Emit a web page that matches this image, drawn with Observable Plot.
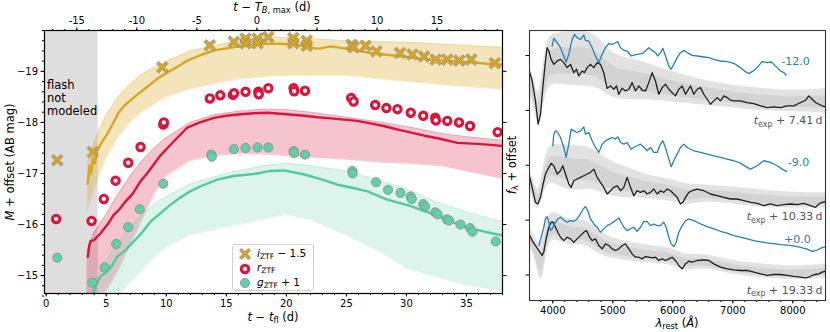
<!DOCTYPE html>
<html><head><meta charset="utf-8">
<script src="https://cdn.jsdelivr.net/npm/d3@7"></script>
<script src="https://cdn.jsdelivr.net/npm/@observablehq/plot@0.6"></script>
<style>
body{margin:0;background:#fff;font-family:"DejaVu Sans",sans-serif;}
#wrap{position:relative;width:830px;height:332px;overflow:hidden;background:#fff;}
#wrap svg{position:absolute;top:0;}
.lbl{position:absolute;font-size:11.5px;color:#000;white-space:nowrap;line-height:1;}
.lbl sub{font-size:0.72em;vertical-align:-0.3em;}
.lbl i{font-style:italic;}
#legend{position:absolute;left:232px;top:244px;width:80px;height:45px;border:1px solid #d0d0d0;border-radius:3px;background:rgba(255,255,255,0.85);font-size:10.5px;}
#legend .row{position:absolute;left:6px;height:14px;display:flex;align-items:center;}
#legend .row svg{position:static;margin-right:6px;}
#legend sub{font-size:0.72em;vertical-align:-0.3em;}
</style></head><body><div id="wrap"></div>
<script>
// ---------------- LEFT PANEL DATA ----------------
const flashEnd = 4.33;          // end of "flash not modeled" region (t - t_fl, d)
const tBmaxOffset = 17.55;      // t_fl + offset = T_B,max
const xTicksBottom = [0,5,10,15,20,25,30,35];
const xTicksTop = [-15,-10,-5,0,5,10,15];
const yTicksLeft = [-19,-18,-17,-16,-15];

// observed photometry (already offset as in legend)
const iObs = [[0.92,-17.26],[3.88,-17.42],[9.67,-19.08],[13.63,-19.51],[15.63,-19.58],[16.6,-19.64],[16.6,-19.55],[17.6,-19.64],[17.6,-19.55],[18.5,-19.67],[20.58,-19.65],[20.58,-19.55],[21.7,-19.6],[21.7,-19.5],[25.44,-19.52],[25.6,-19.47],[26.6,-19.5],[27.5,-19.39],[29.47,-19.36],[30.5,-19.33],[31.47,-19.29],[32.44,-19.23],[33.4,-19.23],[34.4,-19.21],[35.4,-19.23],[37.36,-19.16]];
const rObs = [[0.83,-16.11],[3.78,-16.07],[4.8,-16.5],[5.78,-16.86],[6.83,-17.21],[7.86,-17.52],[9.75,-17.96],[9.8,-18.0],[13.63,-18.47],[14.5,-18.53],[15.55,-18.54],[15.65,-18.57],[16.6,-18.6],[17.67,-18.6],[17.7,-18.55],[18.5,-18.67],[20.6,-18.67],[20.65,-18.61],[21.55,-18.62],[25.4,-18.48],[25.6,-18.41],[27.4,-18.34],[28.33,-18.28],[29.25,-18.26],[30.36,-18.19],[31.4,-18.13],[32.4,-18.09],[32.45,-18.04],[33.4,-18.03],[34.38,-18.0],[35.3,-17.93],[37.6,-17.81]];
const gObs = [[0.92,-15.35],[3.83,-14.86],[4.86,-15.16],[5.83,-15.62],[6.83,-15.95],[7.8,-16.3],[9.75,-16.8],[13.75,-17.37],[13.8,-17.33],[15.63,-17.48],[16.6,-17.5],[17.6,-17.51],[18.5,-17.51],[20.6,-17.44],[20.65,-17.4],[21.55,-17.37],[25.5,-17.05],[25.52,-17.0],[27.47,-16.83],[28.47,-16.68],[29.5,-16.62],[30.35,-16.55],[30.45,-16.5],[31.4,-16.4],[31.55,-16.35],[32.4,-16.24],[32.6,-16.2],[33.35,-16.1],[33.55,-16.08],[34.5,-16.0],[35.3,-15.93],[35.5,-15.86],[37.44,-15.67]];

// best model light curves
const iModel = [[3.45,-16.8],[3.6,-17.15],[3.75,-17.0],[3.9,-17.3],[4.05,-17.2],[4.25,-17.45],[4.6,-17.6],[5.08,-17.77],[5.5,-17.95],[6.05,-18.2],[6.6,-18.35],[7.3,-18.49],[8.0,-18.62],[8.7,-18.75],[9.4,-18.88],[10.1,-18.98],[11.0,-19.1],[11.75,-19.21],[13.0,-19.33],[14.0,-19.41],[15.0,-19.45],[16.2,-19.49],[17.3,-19.52],[18.4,-19.54],[19.5,-19.54],[20.5,-19.52],[21.5,-19.5],[22.6,-19.44],[23.7,-19.49],[25.1,-19.44],[26.0,-19.4],[27.0,-19.36],[28.5,-19.32],[29.8,-19.29],[31.2,-19.25],[32.6,-19.22],[34.0,-19.2],[35.4,-19.18],[36.7,-19.15],[38.0,-19.13]];
const rModel = [[3.47,-15.37],[3.6,-15.6],[3.68,-15.67],[4.0,-15.7],[4.53,-15.83],[5.1,-16.0],[5.63,-16.19],[6.1,-16.3],[6.6,-16.45],[7.2,-16.6],[7.86,-16.85],[8.4,-17.0],[8.97,-17.18],[9.5,-17.35],[10.1,-17.5],[11.0,-17.72],[11.75,-17.9],[12.8,-18.0],[13.97,-18.09],[15.0,-18.13],[16.2,-18.16],[17.3,-18.18],[18.4,-18.19],[19.5,-18.17],[20.5,-18.15],[21.5,-18.13],[22.6,-18.1],[23.7,-18.08],[25.9,-18.03],[27.0,-17.98],[28.1,-17.93],[29.3,-17.86],[30.4,-17.8],[31.5,-17.74],[32.6,-17.69],[34.25,-17.6],[35.9,-17.58],[37.0,-17.56],[38.0,-17.54]];
const gModel = [[3.83,-14.55],[4.1,-14.8],[4.5,-14.98],[5.08,-15.08],[5.5,-15.2],[5.92,-15.37],[6.6,-15.5],[7.3,-15.67],[8.0,-15.85],[8.7,-16.06],[9.5,-16.22],[10.36,-16.39],[11.0,-16.5],[11.75,-16.62],[12.86,-16.75],[14.25,-16.88],[15.6,-16.95],[17.3,-16.99],[18.7,-17.05],[19.8,-17.06],[21.5,-16.98],[23.0,-16.88],[24.25,-16.78],[25.5,-16.72],[26.75,-16.65],[28.4,-16.49],[30.36,-16.36],[32.6,-16.17],[34.8,-15.96],[36.5,-15.86],[38.0,-15.79]];

// ensemble envelopes [t, brightest, faintest]
const iBand = [[3.45,-17.2,-16.3],[4.0,-17.6,-16.7],[4.5,-17.9,-17.0],[5.0,-18.15,-17.3],[6.0,-18.5,-17.7],[7.0,-18.75,-18.0],[8.0,-18.95,-18.2],[10.0,-19.2,-18.5],[12.0,-19.4,-18.65],[14.0,-19.5,-18.75],[16.0,-19.6,-18.85],[18.5,-19.68,-18.9],[21.0,-19.65,-18.92],[25.0,-19.6,-18.92],[30.0,-19.57,-18.8],[34.0,-19.52,-18.72],[38.0,-19.47,-18.65]];
const rBand = [[3.4,-15.5,-14.5],[4.0,-15.85,-14.5],[5.0,-16.2,-14.7],[6.0,-16.6,-15.1],[7.0,-16.95,-15.6],[8.0,-17.25,-16.1],[9.0,-17.5,-16.6],[10.0,-17.7,-16.95],[12.0,-18.0,-17.25],[14.0,-18.15,-17.35],[16.0,-18.22,-17.38],[18.0,-18.26,-17.38],[20.0,-18.25,-17.35],[22.0,-18.2,-17.32],[25.0,-18.1,-17.28],[28.0,-18.0,-17.22],[30.0,-17.92,-17.2],[33.0,-17.78,-17.15],[35.0,-17.72,-17.05],[38.0,-17.65,-16.9]];
const gBand = [[3.8,-14.7,-14.5],[4.5,-15.1,-14.5],[5.0,-15.3,-14.5],[6.0,-15.65,-14.6],[7.0,-15.95,-14.85],[8.0,-16.2,-15.1],[9.0,-16.4,-15.35],[10.0,-16.55,-15.55],[12.0,-16.8,-15.8],[15.0,-17.0,-15.95],[18.0,-17.15,-16.1],[20.0,-17.2,-16.2],[22.0,-17.15,-16.1],[25.0,-17.05,-15.8],[28.0,-16.85,-15.45],[30.0,-16.7,-15.15],[33.0,-16.4,-14.95],[35.0,-16.25,-14.82],[38.0,-16.05,-14.7]];

// ---------------- RIGHT PANEL DATA ----------------
const lamTicks = [4000,5000,6000,7000,8000];
const fluxTicks = [0,1,2,3,4];
const blue12 = [[3989,4.173],[4017,4.312],[4073,4.233],[4128,4.143],[4184,3.991],[4223,3.882],[4267,4.021],[4323,4.294],[4362,4.385],[4406,4.324],[4462,4.294],[4517,4.373],[4545,4.276],[4600,4.264],[4656,4.143],[4712,3.991],[4767,3.870],[4823,4.021],[4878,4.143],[4934,4.215],[4989,4.203],[5045,4.233],[5084,4.252],[5128,4.143],[5184,4.094],[5239,4.082],[5306,3.991],[5350,4.009],[5406,4.021],[5489,4.033],[5545,4.082],[5600,4.143],[5656,4.094],[5711,4.052],[5750,3.991],[5795,4.052],[5834,4.130],[5878,3.991],[5934,3.809],[5973,3.749],[6017,3.839],[6073,3.961],[6128,4.052],[6184,4.094],[6239,4.052],[6323,4.003],[6406,3.991],[6517,3.973],[6601,3.961],[6684,3.930],[6795,3.900],[6906,3.888],[7017,3.858],[7128,3.779],[7211,3.706],[7267,3.670],[7323,3.706],[7406,3.779],[7489,3.888],[7573,3.870],[7639,3.882],[7684,3.839],[7740,3.779],[7795,3.718],[7851,3.688],[7890,3.646]];
const blue9 = [[4000,2.355],[4017,2.567],[4045,2.627],[4084,2.597],[4128,2.506],[4184,2.324],[4223,2.143],[4267,2.385],[4306,2.658],[4350,2.627],[4406,2.597],[4462,2.627],[4517,2.700],[4545,2.567],[4600,2.597],[4656,2.446],[4712,2.324],[4767,2.233],[4823,2.385],[4878,2.446],[4934,2.476],[4989,2.506],[5045,2.476],[5084,2.518],[5128,2.415],[5184,2.385],[5239,2.415],[5306,2.294],[5350,2.324],[5406,2.355],[5462,2.385],[5517,2.324],[5573,2.264],[5628,2.324],[5684,2.233],[5739,2.233],[5795,2.385],[5834,2.446],[5878,2.324],[5934,2.112],[5973,1.973],[6017,2.082],[6073,2.203],[6128,2.324],[6184,2.385],[6239,2.324],[6351,2.264],[6462,2.233],[6573,2.203],[6684,2.173],[6795,2.143],[6906,2.112],[7017,2.082],[7128,2.039],[7211,1.979],[7295,1.930],[7406,1.991],[7517,2.082],[7628,2.052],[7740,1.991],[7823,1.930],[7895,1.888]];
const blue0 = [[3767,0.537],[3806,0.688],[3850,0.870],[3878,1.021],[3906,1.064],[3934,0.961],[3962,0.809],[3989,0.840],[4017,0.900],[4045,0.961],[4084,1.021],[4128,1.052],[4184,1.003],[4239,0.961],[4295,0.991],[4350,0.979],[4406,1.021],[4462,1.112],[4506,1.203],[4545,1.246],[4584,1.173],[4628,1.021],[4684,0.930],[4739,0.870],[4795,0.779],[4850,0.840],[4906,0.900],[4962,0.930],[5045,0.991],[5100,1.040],[5139,0.961],[5184,0.870],[5239,0.809],[5295,0.840],[5350,0.870],[5406,0.797],[5462,0.870],[5517,0.979],[5573,0.973],[5628,0.900],[5684,0.930],[5739,0.900],[5795,0.900],[5850,0.961],[5889,0.870],[5934,0.688],[5973,0.567],[6017,0.518],[6056,0.597],[6100,0.779],[6156,0.900],[6212,0.991],[6267,1.021],[6351,0.991],[6462,0.930],[6573,0.882],[6684,0.840],[6795,0.797],[6906,0.761],[7017,0.718],[7128,0.688],[7239,0.658],[7351,0.627],[7462,0.605],[7573,0.585],[7684,0.570],[7795,0.555],[7906,0.545],[8017,0.530],[8128,0.505],[8239,0.470],[8323,0.430],[8406,0.455],[8490,0.500],[8545,0.515]];
const black741 = [[3617,3.688],[3656,3.536],[3711,3.173],[3756,2.749],[3795,2.930],[3839,3.476],[3878,3.900],[3906,4.143],[3934,4.082],[3973,3.930],[4017,3.839],[4073,3.900],[4128,3.930],[4184,3.870],[4239,3.779],[4295,3.839],[4350,3.688],[4395,3.749],[4434,3.627],[4489,3.718],[4528,3.688],[4573,3.779],[4628,3.839],[4684,3.779],[4739,3.870],[4795,3.839],[4850,3.688],[4878,3.536],[4906,3.403],[4962,3.446],[5017,3.385],[5062,3.446],[5100,3.294],[5156,3.403],[5211,3.355],[5267,3.385],[5323,3.506],[5378,3.355],[5434,3.446],[5489,3.367],[5545,3.355],[5600,3.506],[5656,3.688],[5711,3.536],[5767,3.294],[5823,3.415],[5878,3.476],[5934,3.385],[5989,3.324],[6045,3.264],[6100,3.385],[6156,3.446],[6212,3.294],[6295,3.446],[6351,3.294],[6406,3.385],[6462,3.415],[6517,3.294],[6573,3.203],[6628,3.112],[6684,3.173],[6739,3.233],[6795,3.173],[6851,3.264],[6906,3.233],[6962,3.185],[7017,3.173],[7128,3.173],[7239,3.143],[7351,3.124],[7462,3.082],[7573,3.052],[7684,3.064],[7795,3.052],[7906,3.082],[8017,3.082],[8128,3.143],[8212,3.185],[8267,3.264],[8323,3.203],[8379,3.143],[8434,3.112],[8490,3.082],[8545,3.064]];
const black1033 = [[3617,1.779],[3656,1.597],[3711,1.324],[3750,1.294],[3795,1.415],[3839,1.658],[3878,1.840],[3934,1.961],[3973,2.034],[4017,1.991],[4073,1.840],[4128,1.900],[4167,1.991],[4212,1.840],[4267,1.658],[4306,1.597],[4350,1.718],[4406,1.749],[4462,1.779],[4517,1.809],[4573,1.840],[4628,1.870],[4684,1.930],[4739,1.779],[4795,1.688],[4850,1.597],[4906,1.476],[4962,1.536],[5017,1.597],[5073,1.627],[5128,1.536],[5184,1.597],[5239,1.779],[5295,1.597],[5350,1.446],[5406,1.536],[5462,1.506],[5517,1.536],[5573,1.476],[5628,1.506],[5684,1.567],[5739,1.476],[5795,1.536],[5850,1.506],[5906,1.567],[5962,1.536],[6017,1.476],[6073,1.415],[6128,1.294],[6167,1.324],[6212,1.415],[6267,1.506],[6323,1.536],[6406,1.567],[6517,1.536],[6628,1.476],[6739,1.446],[6851,1.415],[6962,1.385],[7073,1.385],[7184,1.355],[7295,1.324],[7406,1.306],[7517,1.264],[7628,1.294],[7740,1.264],[7851,1.282],[7962,1.294],[8073,1.282],[8184,1.306],[8295,1.264],[8379,1.233],[8434,1.294],[8490,1.324],[8545,1.336]];
const black1933 = [[3617,0.718],[3656,0.627],[3711,0.537],[3767,0.446],[3823,0.355],[3850,0.415],[3895,0.688],[3934,0.870],[3973,0.961],[4006,0.961],[4045,0.870],[4084,0.779],[4128,0.688],[4184,0.627],[4239,0.688],[4295,0.658],[4350,0.597],[4406,0.658],[4462,0.718],[4517,0.779],[4562,0.809],[4600,0.718],[4656,0.627],[4712,0.658],[4767,0.537],[4823,0.476],[4878,0.567],[4934,0.537],[4989,0.476],[5045,0.446],[5100,0.476],[5156,0.537],[5211,0.567],[5267,0.476],[5323,0.385],[5378,0.324],[5434,0.324],[5489,0.294],[5545,0.336],[5600,0.324],[5656,0.312],[5711,0.324],[5767,0.264],[5823,0.294],[5878,0.264],[5934,0.294],[5989,0.324],[6045,0.264],[6100,0.173],[6156,0.112],[6212,0.203],[6267,0.252],[6323,0.233],[6406,0.264],[6517,0.276],[6601,0.264],[6684,0.203],[6795,0.143],[6906,0.112],[7017,0.094],[7128,0.082],[7239,0.082],[7351,0.052],[7462,0.021],[7573,-0.009],[7684,0.009],[7795,0.009],[7906,-0.009],[8017,-0.027],[8128,-0.039],[8212,-0.051],[8267,-0.039],[8323,-0.009],[8379,0.009],[8434,0.021],[8490,0.052],[8545,0.070]];
// model ensemble envelopes [lambda, low, high]
const env741 = [[3617,3.3,3.8],[3700,3.0,3.55],[3760,2.65,3.2],[3820,2.9,3.7],[3900,3.4,4.3],[4000,3.5,4.4],[4300,3.45,4.45],[4600,3.45,4.45],[4800,3.4,4.3],[5000,3.2,4.0],[5300,3.2,3.95],[5600,3.2,3.85],[6000,3.15,3.7],[6500,3.1,3.55],[7000,3.05,3.45],[7500,2.98,3.4],[8000,2.98,3.35],[8545,2.95,3.4]];
const env1033 = [[3617,1.55,1.9],[3700,1.25,1.7],[3760,1.18,1.45],[3830,1.4,1.9],[3900,1.65,2.3],[4000,1.7,2.4],[4300,1.5,2.35],[4600,1.6,2.35],[4800,1.5,2.2],[5000,1.42,2.05],[5300,1.4,1.95],[5600,1.4,1.8],[6000,1.35,1.75],[6200,1.25,1.65],[6500,1.35,1.65],[7000,1.3,1.6],[7500,1.22,1.55],[8000,1.22,1.5],[8545,1.22,1.5]];
const env1933 = [[3617,0.5,0.85],[3700,0.35,0.7],[3780,-0.15,0.5],[3850,0.0,0.7],[3900,0.5,1.05],[4000,0.7,1.2],[4300,0.5,0.95],[4500,0.6,1.05],[4800,0.35,0.8],[5000,0.3,0.65],[5500,0.22,0.55],[6000,0.2,0.5],[6200,0.05,0.35],[6500,0.15,0.4],[7000,0.0,0.25],[7500,-0.05,0.2],[8000,-0.1,0.15],[8545,-0.05,0.2]];
const phaseLabels = [{text:"-12.0", lam:8045, f:3.89},{text:"-9.0", lam:8095, f:2.045},{text:"+0.0", lam:8075, f:0.64}];
const epochLabels = [{text:"t_exp + 7.41\u2009d", f:2.81},{text:"t_exp + 10.33\u2009d", f:1.064},{text:"t_exp + 19.33\u2009d", f:-0.28}];

// ---------------- helpers ----------------
const pts = a => a.map(([t, m]) => ({t, m}));
const band = a => a.map(([t, lo, hi]) => ({t, lo, hi}));
const GOLD = "#daa520", RED = "#dc143c", GREEN = "#66cdaa", GREENL = "#4fcb9c";
const symbolX = {draw(ctx, size) {
  const a = Math.sqrt(size / Math.PI), b = a * 0.38;
  ctx.moveTo(0, -b); ctx.lineTo(a - b, -a); ctx.lineTo(a, -a + b); ctx.lineTo(b, 0);
  ctx.lineTo(a, a - b); ctx.lineTo(a - b, a); ctx.lineTo(0, b); ctx.lineTo(-a + b, a);
  ctx.lineTo(-a, a - b); ctx.lineTo(-b, 0); ctx.lineTo(-a, -a + b); ctx.lineTo(-a + b, -a); ctx.closePath();
}};
const xDom = [-0.14, 38], yDom = [-19.8, -14.65];

const bandMarks = (b, color, op) => [
  Plot.areaY(band(b), {x:"t", y1:"lo", y2:"hi", fill: color, fillOpacity: op, clip: true}),
  Plot.lineY(band(b), {x:"t", y:"lo", stroke: color, strokeOpacity: 0.35, strokeWidth: 0.6, clip: true}),
  Plot.lineY(band(b), {x:"t", y:"hi", stroke: color, strokeOpacity: 0.35, strokeWidth: 0.6, clip: true})
];

const leftPlot = Plot.plot({
  width: 510, height: 332, marginLeft: 44, marginRight: 8, marginTop: 30, marginBottom: 39,
  style: {fontFamily: "DejaVu Sans", fontSize: "10px", background: "transparent", color: "#000"},
  x: {domain: xDom},
  y: {domain: yDom, reverse: true},
  marks: [
    Plot.rect([{x1: xDom[0], x2: flashEnd}], {x1: "x1", x2: "x2", y1: () => yDom[0], y2: () => yDom[1], fill: "#dedede"}),
    Plot.text(["flash\nnot\nmodeled"], {frameAnchor: "top-left", dx: 2.5, dy: 50, lineAnchor: "top", textAnchor: "start", fontSize: 11.5, lineHeight: 1.1, fill: "#000"}),
    ...bandMarks(iBand, GOLD, 0.3),
    ...bandMarks(rBand, RED, 0.25),
    ...bandMarks(gBand, GREEN, 0.22),
    Plot.line(pts(iModel), {x:"t", y:"m", stroke: GOLD, strokeWidth: 2.4, clip: true}),
    Plot.line(pts(rModel), {x:"t", y:"m", stroke: RED, strokeWidth: 2.4, clip: true}),
    Plot.line(pts(gModel), {x:"t", y:"m", stroke: GREENL, strokeWidth: 2.4, clip: true}),
    Plot.dot(pts(iObs), {x:"t", y:"m", symbol: symbolX, r: 5.8, fill: GOLD, stroke: "#8a8a8a", strokeWidth: 0.8}),
    Plot.dot(pts(rObs), {x:"t", y:"m", r: 3.7, fill: "#fff", stroke: RED, strokeWidth: 3.1}),
    Plot.dot(pts(gObs), {x:"t", y:"m", r: 4.6, fill: GREEN, stroke: "#8a8a8a", strokeWidth: 0.8}),
    Plot.axisX({ticks: d3.range(0, 39, 1), tickSize: 2, tickFormat: () => "", label: null}),
    Plot.axisX({ticks: xTicksBottom, tickSize: 3.5, tickPadding: 3, label: null}),
    Plot.axisX({anchor: "top", ticks: d3.range(-17, 21).map(d => d + tBmaxOffset), tickSize: 2, tickFormat: () => "", label: null}),
    Plot.axisX({anchor: "top", ticks: xTicksTop.map(d => d + tBmaxOffset), tickSize: 3.5, tickPadding: 3, tickFormat: d => String(Math.round(d - tBmaxOffset)), label: null}),
    Plot.axisY({ticks: d3.range(-19.8, -14.6, 0.2), tickSize: 2, tickFormat: () => "", label: null}),
    Plot.axisY({ticks: yTicksLeft, tickSize: 3.5, tickPadding: 3, tickFormat: d => "\u2212" + Math.abs(d), label: null}),
    Plot.axisY({anchor: "right", ticks: yTicksLeft, tickSize: 3.5, tickFormat: () => "", label: null}),
    Plot.frame({stroke: "#000", strokeWidth: 1.2})
  ]
});

const spec = a => a.map(([lam, f]) => ({lam, f}));
const envl = a => a.map(([lam, lo, hi]) => ({lam, lo, hi}));
const BLUE = "#2482b4";
const rightPlot = Plot.plot({
  width: 315, height: 332, marginLeft: 14, marginRight: 5, marginTop: 30, marginBottom: 32,
  style: {fontFamily: "DejaVu Sans", fontSize: "10px", background: "transparent", color: "#000"},
  x: {domain: [3612, 8545]},
  y: {domain: [-0.465, 4.456]},
  marks: [
    ...[env741, env1033, env1933].map(e => Plot.areaY(envl(e), {x:"lam", y1:"lo", y2:"hi", fill: "#d5d5d5", fillOpacity: 0.7, curve: "basis", clip: true})),
    ...[env741, env1033, env1933].map(e => Plot.areaY(envl(e), {x:"lam", y1: d => d.lo + (d.hi - d.lo) * 0.2, y2: d => d.hi - (d.hi - d.lo) * 0.3, fill: "#c4c4c4", fillOpacity: 0.5, curve: "basis", clip: true})),
    ...[black741, black1033, black1933].map(s => Plot.line(spec(s), {x:"lam", y:"f", stroke: "#1e1e1e", strokeWidth: 1.3, clip: true})),
    ...[blue12, blue9, blue0].map(s => Plot.line(spec(s), {x:"lam", y:"f", stroke: BLUE, strokeWidth: 1.3, clip: true})),
    Plot.text(phaseLabels, {x: "lam", y: "f", text: "text", fill: BLUE, fontSize: 11, textAnchor: "middle"}),
    Plot.text(epochLabels, {frameAnchor: "right", y: "f", text: "text", fill: "#555", fontSize: 11, textAnchor: "end", dx: -3}),
    Plot.axisX({ticks: d3.range(3800, 8600, 200), tickSize: 2, tickFormat: () => "", label: null}),
    Plot.axisX({ticks: lamTicks, tickSize: 3.5, tickPadding: 3, tickFormat: d => String(d), label: null}),
    Plot.axisY({ticks: fluxTicks, tickSize: 3.5, tickFormat: () => "", label: null}),
    Plot.frame({stroke: "#333", strokeWidth: 1.1})
  ]
});

// subscript formatting for epoch labels
const NS = "http://www.w3.org/2000/svg";
rightPlot.querySelectorAll("text").forEach(t => {
  const s = t.textContent;
  if (s.startsWith("t_exp")) {
    while (t.firstChild) t.removeChild(t.firstChild);
    const a = document.createElementNS(NS, "tspan"); a.setAttribute("font-style", "italic"); a.textContent = "t";
    const b = document.createElementNS(NS, "tspan"); b.setAttribute("font-size", "8"); b.setAttribute("dy", "2.5"); b.textContent = "exp";
    const c = document.createElementNS(NS, "tspan"); c.setAttribute("dy", "-2.5"); c.textContent = s.slice(5);
    t.append(a, b, c);
  }
});

const wrap = document.getElementById("wrap");
leftPlot.style.left = "0px";
rightPlot.style.left = "515px";
wrap.append(leftPlot, rightPlot);

function addLabel(html, x, y, rotate) {
  const d = document.createElement("div");
  d.className = "lbl"; d.innerHTML = html;
  d.style.left = x + "px"; d.style.top = y + "px";
  d.style.transform = "translate(-50%,-50%)" + (rotate ? " rotate(-90deg)" : "");
  wrap.append(d);
}
addLabel('<i>t</i> \u2212 <i>T</i><sub><i>B</i>, max</sub> (d)', 272, 8);
addLabel('<i>t</i> \u2212 <i>t</i><sub>fl</sub> (d)', 273, 318);
addLabel('<i>M</i> + offset (AB mag)', 11, 162, true);
addLabel('<i>f</i><sub>\u03bb</sub> + offset', 513, 165, true);
addLabel('<i>\u03bb</i><sub>rest</sub> (<i>\u00c5</i>)', 677, 324);

// legend
const lg = document.createElement("div"); lg.id = "legend";
const sym = {
  i: `<svg width="12" height="12" viewBox="-6 -6 12 12"><path d="M0,-2.1L3.4,-5.5L5.5,-3.4L2.1,0L5.5,3.4L3.4,5.5L0,2.1L-3.4,5.5L-5.5,3.4L-2.1,0L-5.5,-3.4L-3.4,-5.5Z" fill="${GOLD}" stroke="#8a8a8a" stroke-width="0.8"/></svg>`,
  r: `<svg width="12" height="12" viewBox="-6 -6 12 12"><circle r="3.7" fill="#fff" stroke="${RED}" stroke-width="3.1"/></svg>`,
  g: `<svg width="12" height="12" viewBox="-6 -6 12 12"><circle r="4.6" fill="${GREEN}" stroke="#8a8a8a" stroke-width="0.8"/></svg>`
};
const rows = [[sym.i, '<i>i</i><sub>ZTF</sub> \u2212 1.5'], [sym.r, '<i>r</i><sub>ZTF</sub>'], [sym.g, '<i>g</i><sub>ZTF</sub> + 1']];
rows.forEach(([s, t], k) => {
  const r = document.createElement("div"); r.className = "row"; r.style.top = (2 + k * 14.5) + "px";
  r.innerHTML = s + "<span>" + t + "</span>"; lg.append(r);
});
wrap.append(lg);
</script></body></html>
